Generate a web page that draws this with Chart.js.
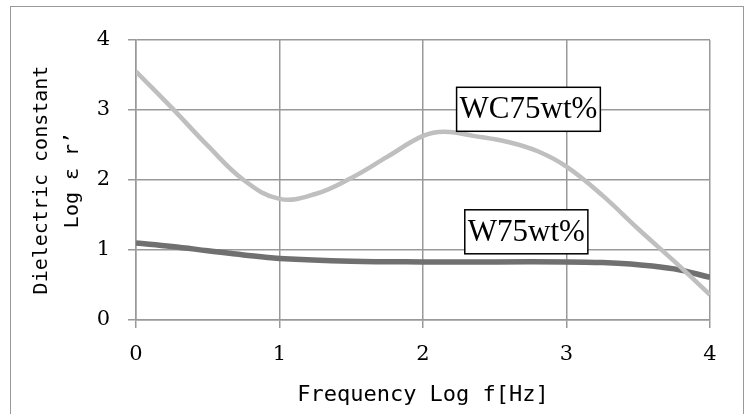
<!DOCTYPE html>
<html>
<head>
<meta charset="utf-8">
<script src="https://cdn.jsdelivr.net/npm/chart.js@4.4.1/dist/chart.umd.min.js"></script>
<style>
  html, body { margin: 0; padding: 0; background: #fff; }
  #wrap { position: relative; width: 750px; height: 414px; }
  #frame { position: absolute; left: 10px; top: 6px; width: 734px; height: 420px;
           border: 1.5px solid #999; box-sizing: border-box; }
  canvas { position: absolute; left: 0; top: 0; }
</style>
</head>
<body>
<div id="wrap">
  <div id="frame"></div>
  <canvas id="c" width="750" height="414"></canvas>
</div>
<script>
const xTicks = [0, 1, 2, 3, 4];
const yTicks = [0, 1, 2, 3, 4];
const xTitle = 'Frequency Log f[Hz]';
const yTitle = ['Dielectric constant', 'Log ε r’'];

const wcName = 'WC75wt%';
const wcX = [0, 0.25, 0.5, 0.75, 1.0, 1.25, 1.5, 1.75, 2.0, 2.15, 2.35, 2.6, 2.8, 3.0, 3.25, 3.5, 3.75, 4.0];
const wcY = [3.55, 3.03, 2.49, 2.00, 1.73, 1.80, 2.03, 2.33, 2.63, 2.69, 2.63, 2.54, 2.41, 2.19, 1.78, 1.30, 0.84, 0.36];

const wName = 'W75wt%';
const wX = [0, 0.25, 0.5, 0.75, 1.0, 1.5, 2.0, 2.5, 3.0, 3.25, 3.5, 3.75, 4.0];
const wY = [1.10, 1.05, 0.99, 0.93, 0.88, 0.84, 0.83, 0.83, 0.83, 0.82, 0.79, 0.73, 0.61];

const labelBoxes = {
  id: 'labelBoxes',
  afterDatasetsDraw(chart) {
    const ctx = chart.ctx;
    const xs = chart.scales.x, ys = chart.scales.y;
    const items = [
      { text: wcName, x: 2.735, y: 3.01 },
      { text: wName, x: 2.72, y: 1.26 }
    ];
    ctx.save();
    ctx.font = '31px "Liberation Serif", "DejaVu Serif", serif';
    ctx.textBaseline = 'middle';
    ctx.textAlign = 'center';
    for (const it of items) {
      const px = xs.getPixelForValue(it.x);
      const py = ys.getPixelForValue(it.y);
      const w = ctx.measureText(it.text).width + 6;
      const h = 44;
      ctx.fillStyle = '#fff';
      ctx.fillRect(px - w / 2, py - h / 2, w, h);
      ctx.strokeStyle = '#000';
      ctx.lineWidth = 1.5;
      ctx.strokeRect(px - w / 2, py - h / 2, w, h);
      ctx.fillStyle = '#000';
      ctx.fillText(it.text, px, py + 1);
    }
    ctx.restore();
  }
};

new Chart(document.getElementById('c'), {
  type: 'line',
  data: {
    datasets: [
      {
        label: wcName,
        data: wcX.map((x, i) => ({ x, y: wcY[i] })),
        borderColor: '#bfbfbf',
        borderWidth: 4.5,
        pointRadius: 0,
        tension: 0.4,
        fill: false
      },
      {
        label: wName,
        data: wX.map((x, i) => ({ x, y: wY[i] })),
        borderColor: '#707070',
        borderWidth: 5.5,
        pointRadius: 0,
        tension: 0.4,
        fill: false
      }
    ]
  },
  options: {
    responsive: false,
    animation: false,
    layout: { padding: { left: 0, top: 40, right: 40, bottom: 0 } },
    plugins: { legend: { display: false }, tooltip: { enabled: false } },
    scales: {
      x: {
        type: 'linear',
        min: 0, max: 4,
        afterBuildTicks(s) { s.ticks = xTicks.map(v => ({ value: v })); },
        afterFit(s) { s.height = 94; },
        grid: { color: '#999', lineWidth: 1.5, tickLength: 8, drawTicks: true },
        border: { color: '#999', width: 1.5 },
        ticks: {
          color: '#000',
          padding: 14,
          font: { family: '"DejaVu Serif", "Liberation Serif", serif', size: 21 }
        },
        title: {
          display: true,
          text: xTitle,
          color: '#000',
          padding: { top: 0, bottom: 6 },
          font: { family: '"DejaVu Sans Mono", "Liberation Mono", monospace', size: 22, lineHeight: 1.2 }
        }
      },
      y: {
        type: 'linear',
        min: 0, max: 4,
        afterBuildTicks(s) { s.ticks = yTicks.map(v => ({ value: v })); },
        afterFit(s) { s.width = 136; },
        grid: { color: '#999', lineWidth: 1.5, tickLength: 8, drawTicks: true },
        border: { color: '#999', width: 1.5 },
        ticks: {
          color: '#000',
          padding: 18,
          font: { family: '"DejaVu Serif", "Liberation Serif", serif', size: 21 }
        },
        title: {
          display: true,
          text: yTitle,
          color: '#000',
          padding: { top: 26, bottom: 0 },
          font: { family: '"DejaVu Sans Mono", "Liberation Mono", monospace', size: 20, lineHeight: 1.55 }
        }
      }
    }
  },
  plugins: [labelBoxes]
});
</script>
</body>
</html>
